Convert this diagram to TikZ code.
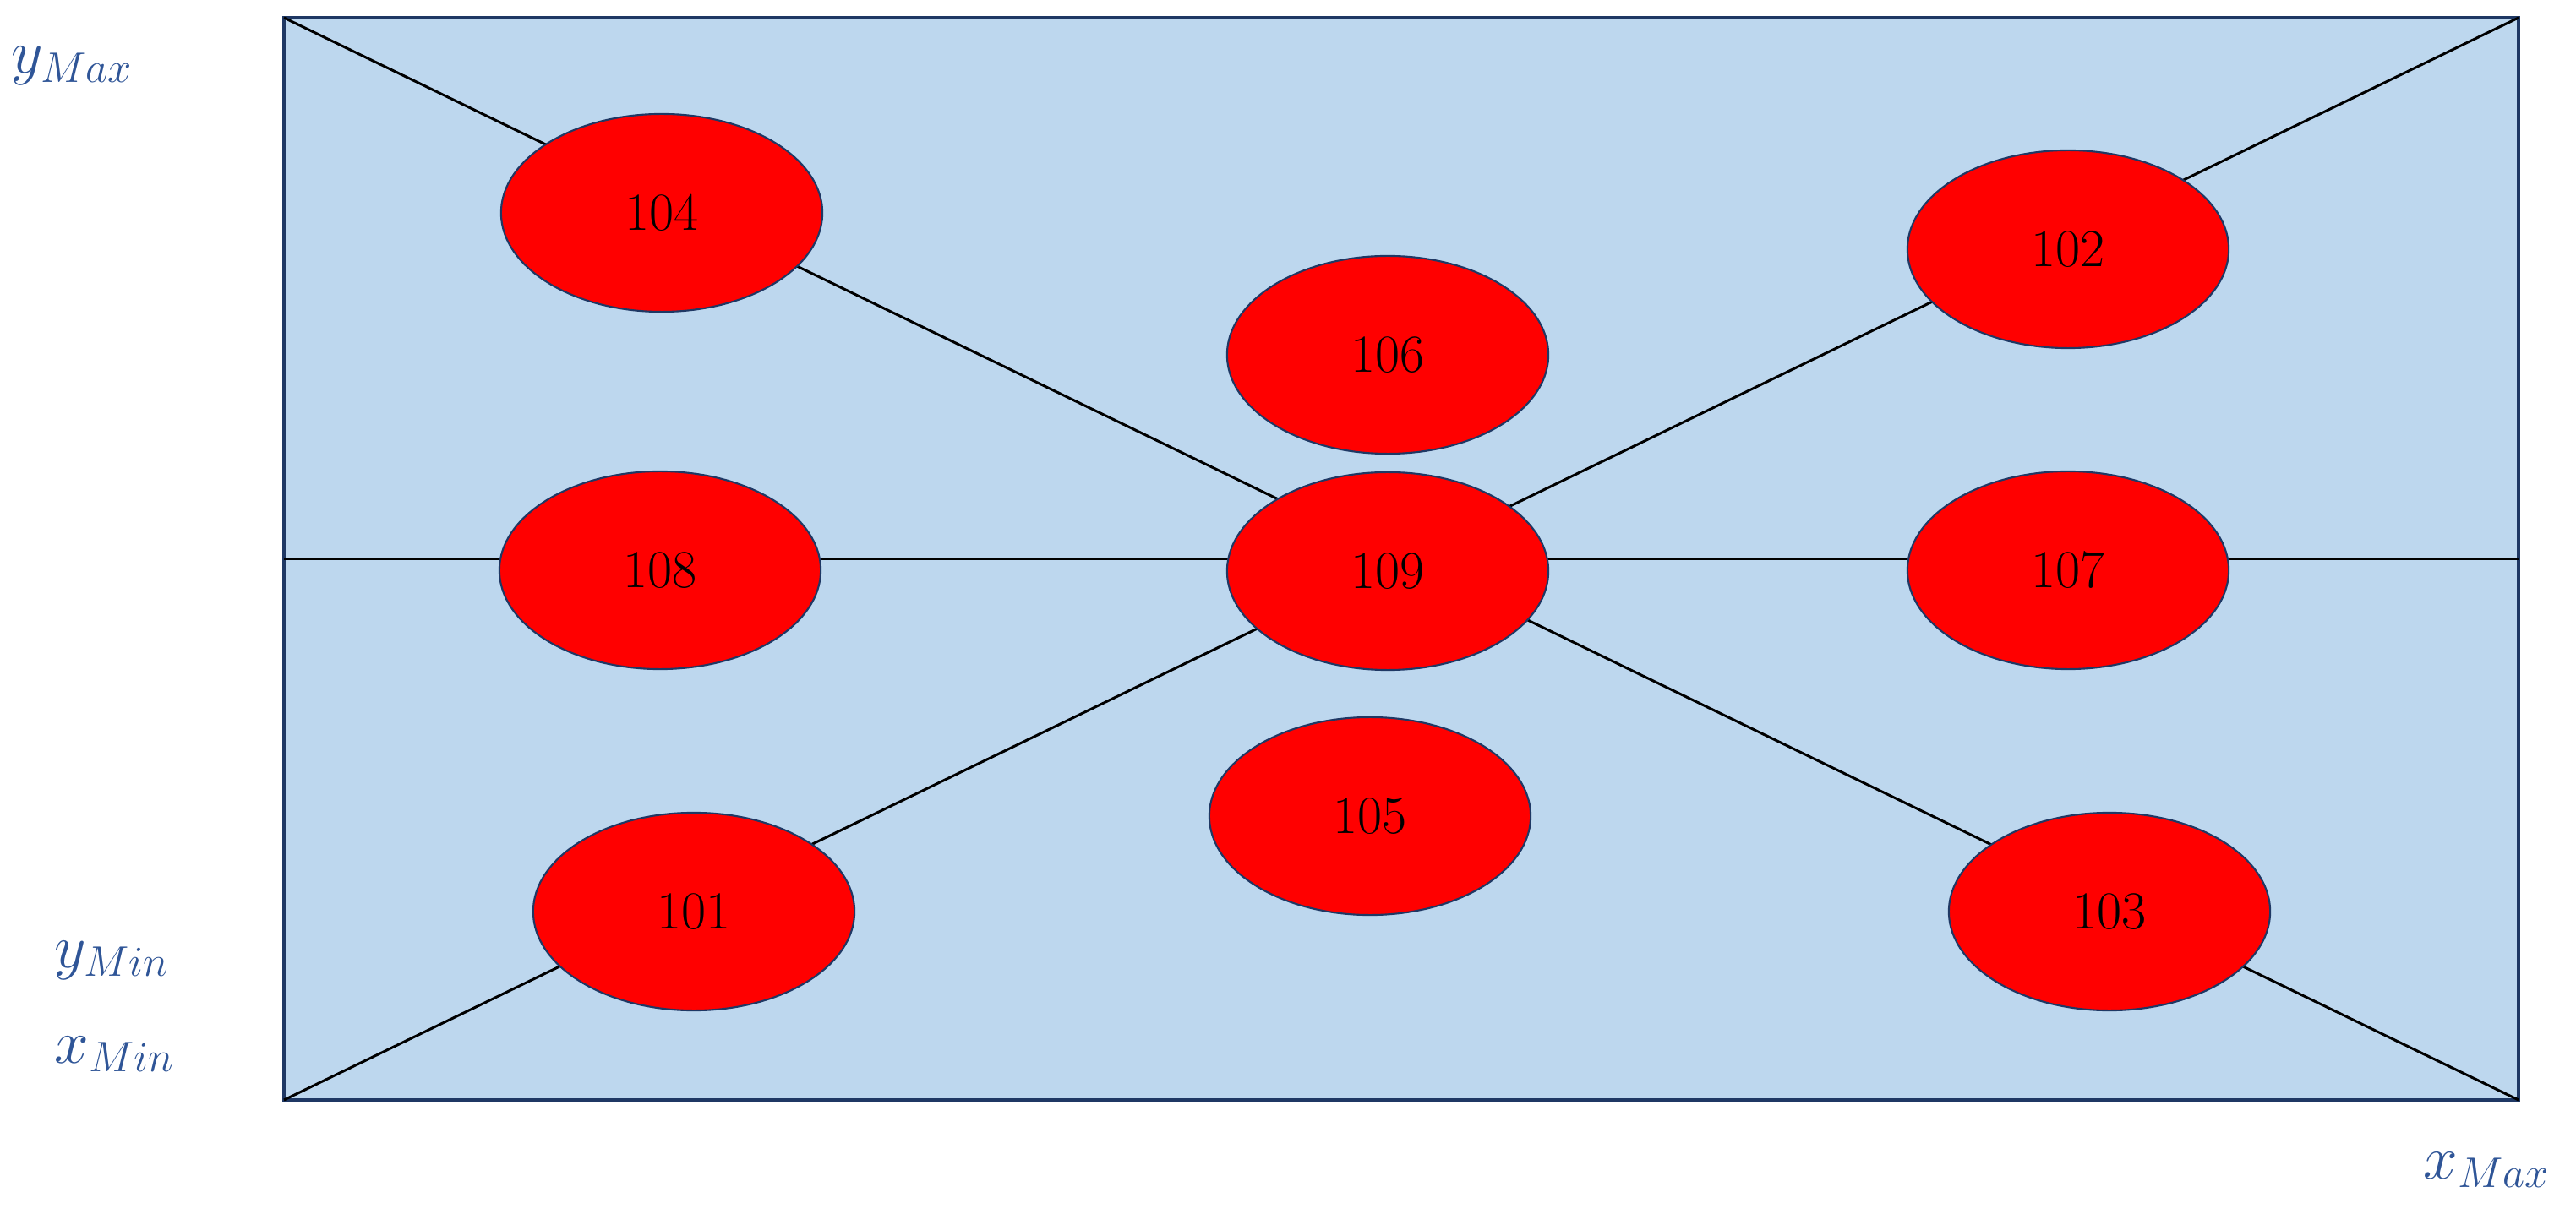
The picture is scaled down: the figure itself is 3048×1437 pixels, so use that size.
\documentclass[tikz,border=0pt]{standalone}
\usepackage{xcolor}
\usepackage{tikz}
\usetikzlibrary{shapes.geometric}
\definecolor{zoneBlue}{RGB}{189,215,238}
\definecolor{rimNavy}{RGB}{31,56,100}
\definecolor{labelBlue}{RGB}{47,85,151}

\begin{document}
\begin{tikzpicture}[
  x=0.01cm, y=-0.01cm,
  font=\fontsize{18}{20}\selectfont,
  zone/.style = {draw=rimNavy, line width=1.4pt, fill=zoneBlue},
  cell/.style = {ellipse, draw=rimNavy, line width=0.6pt, fill=red,
                 minimum width=3.8cm, minimum height=2.34cm, inner sep=0pt},
  axis/.style = {black, line width=0.85pt},
  bound/.style = {text=labelBlue, font=\fontsize{22}{24}\selectfont,
                  inner sep=0pt, anchor=base west}
]
\useasboundingbox (0,0) rectangle (3048,1437);

% Corners of the area
\coordinate (tl) at (336,21);
\coordinate (br) at (2980,1302);
\coordinate (tr) at (2980,21);
\coordinate (bl) at (336,1302);
\coordinate (ml) at (336,661.5);
\coordinate (mr) at (2980,661.5);

\draw[zone] (tl) rectangle (br);

% Diagonals and middle line
\draw[axis] (tl) -- (br);
\draw[axis] (bl) -- (tr);
\draw[axis] (ml) -- (mr);

% Cells
\node[cell] (c104) at (783,252)   {104};
\node[cell] (c106) at (1642,420)  {106};
\node[cell] (c102) at (2447,295)  {102};
\node[cell] (c108) at (781,675)   {108};
\node[cell] (c109) at (1642,676)  {109};
\node[cell] (c107) at (2447,675)  {107};
\node[cell] (c105) at (1621,966)  {105};
\node[cell] (c101) at (821,1079)  {101};
\node[cell] (c103) at (2496,1079) {103};

% Bounds
\node[bound] (ymax) at (13,87)    {$y_{Max}$};
\node[bound] (ymin) at (64,1145)  {$y_{Min}$};
\node[bound] (xmin) at (64,1258)  {$x_{Min}$};
\node[bound] (xmax) at (2867,1395) {$x_{Max}$};

\end{tikzpicture}
\end{document}
